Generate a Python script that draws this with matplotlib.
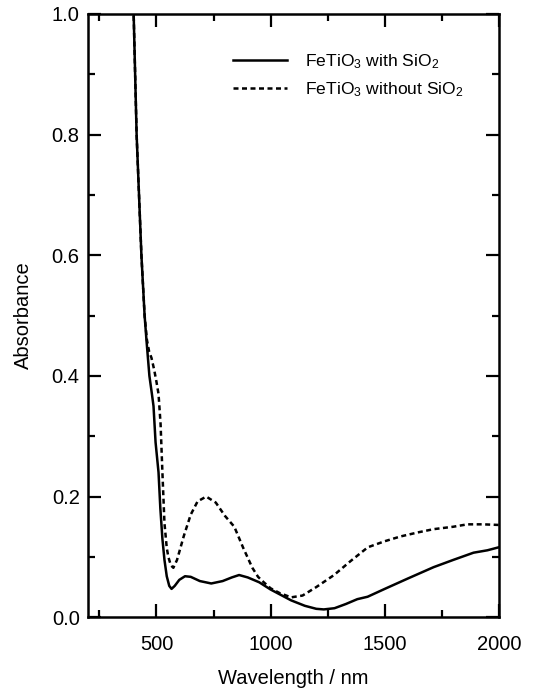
import numpy as np
import matplotlib.pyplot as plt
from matplotlib.ticker import MultipleLocator

plt.rcParams['font.family'] = ['Liberation Sans', 'DejaVu Sans']
plt.rcParams['mathtext.fontset'] = 'custom'
plt.rcParams['mathtext.rm'] = 'Liberation Sans'
plt.rcParams['mathtext.it'] = 'Liberation Sans'

# FeTiO3 with SiO2 (solid)
wl_with = [395, 400, 413, 434, 448, 456, 469, 480, 487, 496, 509, 517, 526, 535,
           545, 556, 566, 580, 600, 625, 650, 690, 740, 790, 830, 862, 900, 950,
           1000, 1050, 1090, 1150, 1200, 1233, 1280, 1330, 1380, 1425, 1500, 1600,
           1714, 1800, 1889, 1950, 2000]
abs_with = [1.05, 1.0, 0.8, 0.6, 0.5, 0.46, 0.40, 0.37, 0.35, 0.29, 0.24, 0.18, 0.13, 0.095,
            0.068, 0.052, 0.047, 0.052, 0.062, 0.068, 0.067, 0.060, 0.056, 0.060, 0.066, 0.070, 0.066, 0.058,
            0.046, 0.036, 0.028, 0.019, 0.014, 0.013, 0.015, 0.022, 0.030, 0.034, 0.047, 0.064,
            0.083, 0.095, 0.107, 0.111, 0.116]

# FeTiO3 without SiO2 (dashed)
wl_without = [395, 400, 413, 434, 448, 458, 468, 478, 490, 500, 509, 518, 526, 535,
              545, 552, 563, 574, 590, 620, 650, 680, 718, 760, 800, 841, 880, 920,
              945, 970, 1000, 1040, 1090, 1140, 1200, 1278, 1350, 1426, 1500, 1570,
              1650, 1714, 1800, 1862, 1930, 2000]
abs_without = [1.05, 1.0, 0.8, 0.6, 0.5, 0.46, 0.44, 0.43, 0.41, 0.39, 0.37, 0.32, 0.24, 0.156,
               0.115, 0.10, 0.086, 0.082, 0.095, 0.135, 0.170, 0.192, 0.200, 0.190, 0.168, 0.150, 0.115, 0.082,
               0.067, 0.058, 0.048, 0.040, 0.033, 0.036, 0.050, 0.070, 0.093, 0.116, 0.126, 0.134,
               0.141, 0.146, 0.150, 0.154, 0.154, 0.153]

fig = plt.figure(figsize=(5.5, 6.92), dpi=100)
ax = fig.add_axes([0.16, 0.108, 0.747, 0.872])

ax.plot(wl_with, abs_with, color='black', lw=1.8, label='FeTiO$_3$ with SiO$_2$')
ax.plot(wl_without, abs_without, color='black', lw=1.8, linestyle=(0, (2.0, 1.4)),
        label='FeTiO$_3$ without SiO$_2$')

ax.set_xlim(200, 2000)
ax.set_ylim(0, 1.0)
ax.xaxis.set_major_locator(MultipleLocator(500))
ax.xaxis.set_minor_locator(MultipleLocator(250))
ax.yaxis.set_major_locator(MultipleLocator(0.2))
ax.yaxis.set_minor_locator(MultipleLocator(0.1))
ax.yaxis.set_major_formatter(plt.FormatStrFormatter('%.1f'))
ax.tick_params(which='both', direction='in', top=True, right=True, width=1.6,
               labelsize=14.5)
ax.tick_params(axis='x', which='major', pad=13)
ax.tick_params(axis='y', which='major', pad=6)
ax.tick_params(which='major', length=9.5)
ax.tick_params(which='minor', length=5)
for s in ax.spines.values():
    s.set_linewidth(1.8)

ax.set_xlabel('Wavelength / nm', fontsize=14.5)
ax.set_ylabel('Absorbance', fontsize=14.5)
ax.xaxis.set_label_coords(0.5, -0.086)
ax.yaxis.set_label_coords(-0.133, 0.5)

ax.legend(loc='upper left', frameon=False, fontsize=12.6, handlelength=3.1,
          handletextpad=1.0, borderpad=0, borderaxespad=0,
          bbox_to_anchor=(0.353, 0.936), labelspacing=0.5)

plt.savefig('out.png', dpi=100)
